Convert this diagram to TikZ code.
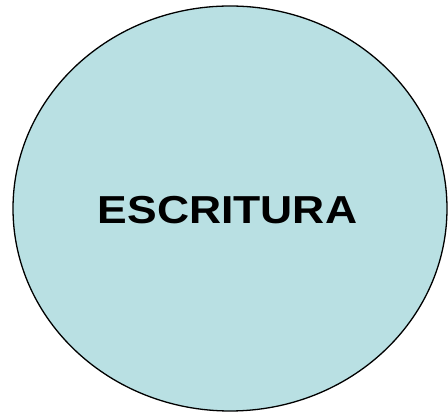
\documentclass[tikz,border=0pt]{standalone}
\usepackage{fontspec}
\setmainfont{Liberation Sans}
\definecolor{fillblue}{HTML}{B9E0E3}
\begin{document}
\begin{tikzpicture}[x=1pt,y=1pt,
  bubble/.style={draw=black,line width=1.3pt,fill=fillblue},
  label/.style={font=\fontsize{39}{39}\selectfont\bfseries,inner sep=0pt,xscale=1.14}]
\useasboundingbox (0,0) rectangle (448,412);
\fill[white] (0,0) rectangle (448,412);
\draw[bubble] (230,203.5) ellipse [x radius=217, y radius=202.5];
\node[label,anchor=center] (t) at (227.5,201.5) {ESCRITURA};
\end{tikzpicture}
\end{document}
